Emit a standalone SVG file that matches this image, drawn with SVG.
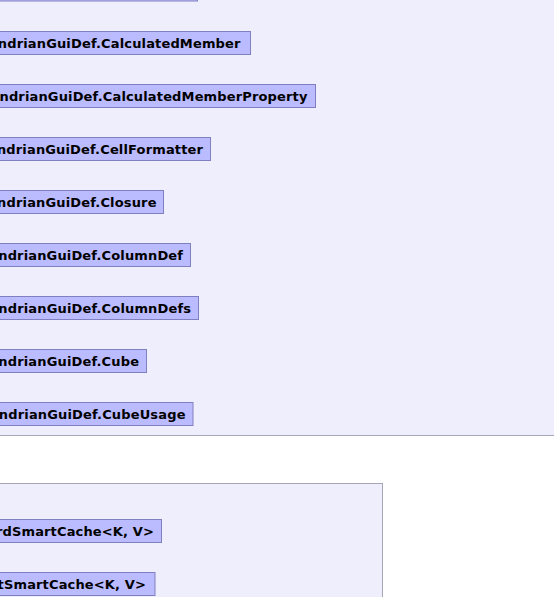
<svg xmlns="http://www.w3.org/2000/svg" width="554" height="597" viewBox="0 0 554 597">
<style>
.pkg{fill:#eeeefc;stroke:#a6a6b8;stroke-width:1}
.cls{fill:#bbbbff;stroke:#8080c0;stroke-width:1}
.lbl{font-family:"DejaVu Sans",sans-serif;font-weight:bold;font-size:13px;letter-spacing:0.15px;fill:#000;text-anchor:end}
</style>
<rect width="554" height="597" fill="#ffffff"/>
<g id="pkg1"><rect class="pkg" x="-20" y="-20" width="600" height="455.5"/></g>
<g id="pkg2"><rect class="pkg" x="-20" y="483.5" width="402.5" height="140"/></g>
<g id="n0"><rect class="cls" x="-20" y="-22" width="217.5" height="23"/></g>
<g id="n1"><rect class="cls" x="-20" y="31.5" width="270.5" height="23"/><text class="lbl" x="240.6" y="47.6">MondrianGuiDef.CalculatedMember</text></g>
<g id="n2"><rect class="cls" x="-20" y="84.5" width="335.5" height="23"/><text class="lbl" x="307.6" y="100.6">MondrianGuiDef.CalculatedMemberProperty</text></g>
<g id="n3"><rect class="cls" x="-20" y="137.5" width="230.5" height="23"/><text class="lbl" x="203.1" y="153.6">MondrianGuiDef.CellFormatter</text></g>
<g id="n4"><rect class="cls" x="-20" y="190.5" width="183.5" height="23"/><text class="lbl" x="156.6" y="206.6">MondrianGuiDef.Closure</text></g>
<g id="n5"><rect class="cls" x="-20" y="243.5" width="210.5" height="23"/><text class="lbl" x="183.1" y="259.6">MondrianGuiDef.ColumnDef</text></g>
<g id="n6"><rect class="cls" x="-20" y="296.5" width="218.5" height="23"/><text class="lbl" x="191.1" y="312.6">MondrianGuiDef.ColumnDefs</text></g>
<g id="n7"><rect class="cls" x="-20" y="349.5" width="166.5" height="23"/><text class="lbl" x="139.1" y="365.6">MondrianGuiDef.Cube</text></g>
<g id="n8"><rect class="cls" x="-20" y="402.5" width="213" height="23"/><text class="lbl" x="185.6" y="418.6">MondrianGuiDef.CubeUsage</text></g>
<g id="n9"><rect class="cls" x="-20" y="519.5" width="181.5" height="23"/><text class="lbl" x="154.1" y="535.6">HardSmartCache&lt;K, V&gt;</text></g>
<g id="n10"><rect class="cls" x="-20" y="572.5" width="175" height="23"/><text class="lbl" x="146.1" y="588.6">SoftSmartCache&lt;K, V&gt;</text></g>
<g id="connectors"></g>
</svg>
